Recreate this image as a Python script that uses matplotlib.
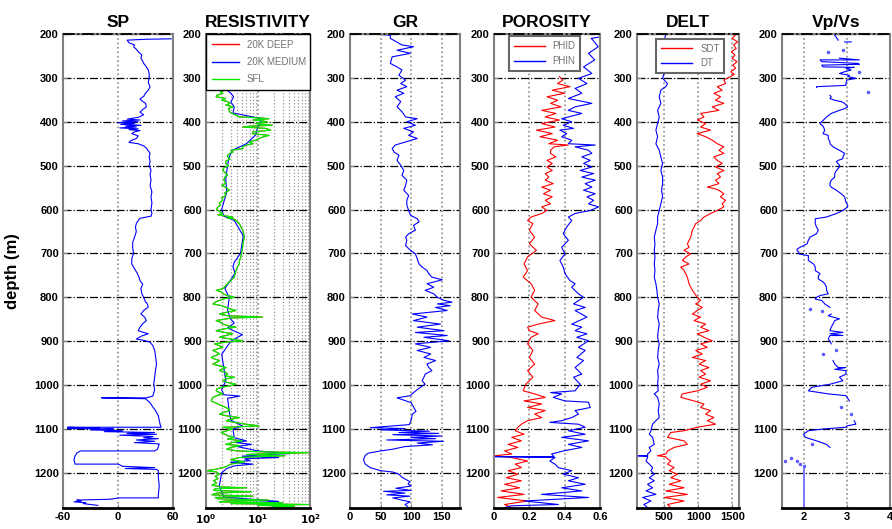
import matplotlib
matplotlib.use('Agg')
import numpy as np
from matplotlib import pyplot as plt
from matplotlib.lines import Line2D

GAP = float('nan')

# --- log readings: (depth m, value) ---
sp_log = [
    (211, 58), (212, 30), (214, 10), (220, 12), (225, 18), (229, 17), (235, 20), (240, 22),
    (248, 26), (255, 25), (262, 27), (267, 28), (275, 31), (282, 33), (290, 34), (300, 34),
    (310, 33), (320, 35), (328, 33), (335, 30), (342, 28), (348, 24), (352, 26), (358, 30),
    (366, 31), (372, 27), (378, 24), (384, 28), (390, 22), (394, 10), (396, 24), (398, 5),
    (400, 22), (402, 0), (404, 18), (406, 3), (408, 25), (410, 8), (412, 20), (414, 2),
    (416, 22), (418, 12), (420, 24), (423, 18), (427, 15), (432, 22), (438, 20), (443, 14),
    (447, 12), (450, 22), (455, 28), (460, 31), (466, 33), (472, 35), (480, 34), (490, 35),
    (500, 34), (510, 36), (520, 35), (533, 36), (545, 35), (560, 37), (571, 36), (585, 37),
    (600, 36), (609, 37), (615, 36), (620, 24), (625, 22), (632, 20), (640, 19), (650, 20),
    (663, 18), (675, 16), (686, 16), (700, 17), (712, 15), (724, 15), (735, 18), (745, 21),
    (755, 23), (762, 24), (770, 27), (780, 25), (792, 26), (800, 28), (810, 30), (815, 32),
    (822, 33), (830, 28), (838, 25), (845, 29), (853, 31), (860, 27), (868, 24), (876, 22),
    (880, 28), (883, 33), (888, 26), (895, 20), (898, 28), (902, 35), (910, 38), (921, 40),
    (935, 41), (952, 42), (965, 41), (982, 40), (998, 39), (1010, 40), (1025, 38), (1029, 31),
    (1029, -18), (1031, 30), (1040, 35), (1050, 38), (1058, 41), (1070, 44), (1080, 45),
    (1090, 46), (1096, 47), (1096, -55), (1098, -20), (1099, -55), (1100, -5), (1102, -30),
    (1104, 5), (1106, -15), (1108, 40), (1110, 10), (1112, 42), (1114, 2), (1117, 38),
    (1120, 28), (1122, 44), (1125, 20), (1128, 40), (1131, 18), (1134, 45), (1140, 44),
    (1146, 43), (1150, 40), (1150, -41), (1155, -45), (1162, -47), (1170, -48), (1178, -47),
    (1180, -47), (1180, 0), (1185, 5), (1188, 40), (1190, 8), (1192, 42), (1195, 44),
    (1210, 44), (1230, 45), (1250, 44), (1257, 44), (1257, 0), (1260, -8), (1262, -45),
    (1264, -40), (1266, -48), (1268, -35), (1270, -38), (1274, -22),
]

res_sfl = [
    (322, 1.8), (324, 1.7), (328, 2.3), (332, 1.9), (335, 2.1), (340, 1.6), (343, 1.57),
    (347, 2.4), (351, 2.0), (354, 2.6), (358, 2.9), (362, 2.4), (366, 3.3), (370, 2.7),
    (374, 2.8), (377, 2.8), (381, 3.2), (385, 3.8), (389, 4.4), (391, 10), (393, 16.3),
    (396, 8), (398, 12.2), (400, 15), (404, 9), (408, 18.9), (410, 7), (412, 5.1), (415, 14),
    (419, 17.6), (423, 8), (427, 7.8), (431, 16.3), (434, 13), (438, 10.5), (442, 9),
    (446, 6.8), (450, 8), (453, 6), (457, 5.0), (461, 5.1), (465, 3.0), (469, 3.3),
    (472, 2.9), (476, 2.6), (480, 2.6), (485, 2.9), (490, 2.4), (495, 2.4), (500, 2.7),
    (505, 2.2), (511, 2.1), (517, 2.4), (522, 2.6), (526, 2.3), (533, 2.2), (540, 2.4),
    (545, 2.0), (549, 2.4), (556, 2.8), (562, 2.3), (568, 2.4), (573, 2.0), (579, 2.1),
    (585, 1.8), (590, 1.9), (594, 1.69), (600, 1.6), (604, 1.8), (609, 2.1), (612, 1.7),
    (617, 3.3), (619, 2.6), (622, 3.5), (625, 3.8), (632, 4.4), (640, 4.7), (647, 5.1),
    (655, 5.3), (663, 5.45), (670, 5.3), (678, 5.1), (686, 5.07), (693, 4.9), (701, 4.8),
    (708, 4.7), (716, 4.4), (724, 4.38), (731, 4.0), (739, 3.78), (746, 3.6), (754, 3.52),
    (758, 3.2), (762, 3.04), (766, 2.7), (769, 2.62), (773, 2.4), (777, 2.27), (781, 2.0),
    (784, 1.57), (788, 2.0), (792, 2.11), (796, 2.6), (800, 3.52), (803, 2.3), (807, 1.82),
    (811, 1.5), (815, 1.36), (819, 2.0), (823, 2.44), (827, 3.0), (830, 3.78), (834, 2.5),
    (838, 1.82), (842, 2.6), (845, 12.2), (847, 3.0), (849, 2.5), (853, 1.57), (857, 1.9),
    (861, 2.11), (865, 2.7), (868, 3.78), (872, 2.2), (876, 1.57), (880, 2.3), (883, 3.27),
    (887, 2.4), (891, 1.82), (895, 3.0), (899, 5.07), (902, 2.5), (906, 1.46), (910, 1.8),
    (914, 2.11), (918, 1.6), (921, 1.36), (925, 1.6), (929, 1.82), (933, 1.5), (937, 1.26),
    (941, 1.5), (944, 1.82), (948, 1.6), (952, 1.36), (956, 1.8), (960, 2.44), (964, 2.0),
    (967, 1.82), (971, 2.4), (975, 2.6), (979, 2.3), (982, 3.52), (986, 2.4), (990, 2.11),
    (994, 2.6), (998, 3.78), (1002, 2.8), (1005, 1.96), (1009, 1.6), (1013, 1.57),
    (1017, 1.8), (1020, 2.11), (1024, 1.6), (1028, 1.36), (1032, 1.3), (1036, 1.26),
    (1040, 1.5), (1043, 1.69), (1047, 2.0), (1051, 2.4), (1055, 2.8), (1058, 2.83),
    (1062, 2.2), (1066, 1.82), (1070, 2.5), (1074, 4.38), (1078, 3.0), (1081, 2.44),
    (1085, 3.5), (1089, 5.86), (1093, 10.5), (1095, 4), (1096, 2.11), (1100, 3.27),
    (1104, 2.5), (1108, 1.96), (1112, 2.3), (1116, 2.7), (1119, 3.5), (1123, 2.6),
    (1127, 5.0), (1131, 3.2), (1135, 2.4), (1138, 4.5), (1142, 3.0), (1146, 2.5), (1150, 4.0),
    (1152, 12), (1154, 94), (1156, 20), (1158, 6), (1161, 33), (1163, 10), (1165, 4.4),
    (1170, 3.0), (1175, 5.5), (1180, 3.0), (1185, 2.5), (1188, 2.11), (1192, 1.5),
    (1195, 1.01), (1198, 1.6), (1203, 1.8), (1208, 1.5), (1213, 1.7), (1218, 1.4),
    (1223, 1.6), (1228, 1.3), (1232, 2.0), (1234, 6.0), (1236, 1.5), (1240, 1.4), (1243, 7.5),
    (1246, 1.6), (1250, 1.3), (1253, 8), (1256, 1.5), (1259, 1.7), (1262, 16), (1264, 2.5),
    (1266, 1.8), (1268, 30), (1270, 3), (1272, 94), (1274, 10), (1276, 50), (1278, 20),
    (1280, 70),
]

res_medium = [
    (322, 2.2), (335, 3.0), (343, 3.4), (355, 3.0), (366, 3.5), (380, 3.3), (393, 12),
    (410, 10), (430, 9), (450, 6), (465, 3.2), (480, 2.8), (500, 2.6), (530, 2.4), (560, 2.5),
    (600, 2.0), (615, 2.2), (625, 3.5), (660, 5.2), (700, 4.6), (720, 3.5), (730, 3.3),
    (745, 3.6), (760, 3.0), (780, 2.3), (800, 2.8), (830, 2.6), (850, 3.0), (858, 3.5),
    (870, 2.6), (885, 5.0), (900, 3.0), (930, 2.0), (960, 2.2), (990, 2.4), (1010, 2.0),
    (1022, 2.2), (1025, 4.5), (1030, 2.6), (1060, 2.8), (1080, 3.0), (1093, 5.0), (1100, 3.3),
    (1120, 3.5), (1127, 6.0), (1131, 3.8), (1135, 7.5), (1140, 4.0), (1150, 10), (1154, 25),
    (1156, 40), (1158, 15), (1162, 5.0), (1165, 25), (1168, 5.5), (1172, 7), (1176, 3),
    (1180, 8), (1184, 3.5), (1190, 2.5), (1200, 2.0), (1230, 1.8), (1255, 2.2), (1262, 12),
    (1265, 25), (1268, 6), (1272, 30), (1275, 18), (1278, 29), (1280, 20),
]

# the deep curve lies right under SFL in the source plot
res_deep = res_sfl

gr_log = [
    (201, 50), (203, 66), (210, 66), (225, 85), (229, 104), (237, 77), (244, 99), (252, 69),
    (267, 66), (275, 77), (282, 85), (294, 80), (305, 91), (313, 83), (320, 93), (328, 77),
    (335, 88), (343, 74), (354, 83), (366, 77), (377, 85), (389, 91), (393, 110), (400, 93),
    (408, 107), (415, 88), (423, 104), (431, 96), (438, 110), (446, 91), (453, 74), (461, 69),
    (469, 72), (476, 80), (488, 77), (499, 83), (511, 88), (522, 85), (533, 93), (545, 91),
    (556, 88), (568, 96), (579, 93), (590, 93), (602, 96), (613, 99), (621, 110), (628, 113),
    (636, 104), (647, 107), (655, 96), (663, 91), (670, 93), (682, 91), (693, 99), (701, 107),
    (712, 110), (724, 113), (731, 118), (739, 126), (746, 129), (754, 134), (760, 151),
    (769, 126), (777, 137), (784, 123), (792, 137), (800, 143), (807, 154), (811, 167),
    (815, 143), (819, 164), (823, 140), (830, 159), (838, 102), (845, 126), (853, 104),
    (861, 148), (868, 110), (876, 154), (880, 107), (887, 159), (891, 121), (899, 162),
    (906, 107), (914, 132), (921, 110), (929, 132), (937, 121), (944, 140), (952, 126),
    (960, 129), (967, 134), (975, 123), (982, 121), (990, 118), (998, 123), (1005, 115),
    (1017, 104), (1024, 99), (1029, 77), (1040, 100), (1050, 104), (1060, 108), (1066, 102),
    (1080, 100), (1090, 97), (1097, 33), (1099, 90), (1102, 50), (1105, 130), (1108, 80),
    (1110, 145), (1113, 70), (1116, 150), (1119, 100), (1122, 140), (1125, 60), (1128, 153),
    (1132, 110), (1136, 135), (1140, 90), (1146, 70), (1150, 50), (1155, 30), (1160, 25),
    (1170, 22), (1180, 25), (1188, 33), (1195, 50), (1198, 70), (1203, 80), (1210, 85),
    (1220, 98), (1225, 95), (1230, 100), (1235, 75), (1240, 100), (1242, 55), (1246, 90),
    (1250, 60), (1253, 98), (1257, 70), (1262, 85), (1266, 98), (1272, 90), (1278, 95),
]

phid_log = [
    (297, 0.37), (305, 0.39), (313, 0.36), (320, 0.43), (328, 0.33), (335, 0.40), (343, 0.30),
    (351, 0.36), (358, 0.32), (366, 0.38), (374, 0.27), (381, 0.35), (389, 0.29), (396, 0.37),
    (404, 0.27), (412, 0.345), (419, 0.24), (427, 0.33), (434, 0.26), (442, 0.36), (450, 0.31),
    (453, 0.42), (457, 0.34), (465, 0.32), (472, 0.32), (480, 0.35), (488, 0.30), (495, 0.33),
    (503, 0.30), (511, 0.33), (518, 0.29), (526, 0.31), (533, 0.29), (541, 0.335), (549, 0.27),
    (556, 0.32), (564, 0.28), (571, 0.33), (579, 0.29), (587, 0.32), (594, 0.27), (602, 0.30),
    (609, 0.27), (617, 0.21), (625, 0.19), (632, 0.22), (647, 0.20), (663, 0.23), (678, 0.20),
    (693, 0.24), (708, 0.19), (724, 0.17), (739, 0.19), (754, 0.165), (769, 0.21), (784, 0.23),
    (800, 0.21), (815, 0.25), (830, 0.23), (845, 0.27), (853, 0.345), (861, 0.25), (868, 0.19),
    (876, 0.20), (883, 0.25), (891, 0.21), (906, 0.19), (921, 0.22), (937, 0.20), (952, 0.23),
    (967, 0.19), (982, 0.22), (998, 0.18), (1013, 0.165), (1020, 0.23), (1028, 0.29),
    (1036, 0.17), (1043, 0.27), (1051, 0.19), (1058, 0.29), (1066, 0.23), (1074, 0.27),
    (1081, 0.19), (1089, 0.155), (1096, 0.135), (1104, 0.12), (1112, 0.17), (1119, 0.10),
    (1127, 0.155), (1135, 0.08), (1142, 0.135), (1150, 0.06), (1157, 0.10), (1161, 0.0),
    (1165, 0.10), (1173, 0.19), (1180, 0.12), (1188, 0.155), (1195, 0.08), (1203, 0.135),
    (1211, 0.07), (1218, 0.155), (1226, 0.06), (1234, 0.145), (1241, 0.04), (1249, 0.17),
    (1256, 0.02), (1264, 0.19), (1272, 0.06), (1279, 0.10),
]

phin_log = [
    (206, 0.61), (210, 0.55), (214, 0.56), (229, 0.59), (244, 0.535), (259, 0.57), (275, 0.507),
    (290, 0.554), (301, 0.478), (313, 0.526), (324, 0.459), (335, 0.497), (347, 0.421),
    (358, 0.554), (366, 0.459), (374, 0.42), (381, 0.497), (393, 0.383), (400, 0.44),
    (408, 0.392), (415, 0.45), (419, 0.373), (427, 0.411), (434, 0.383), (442, 0.44),
    (450, 0.421), (453, 0.573), (457, 0.459), (465, 0.535), (472, 0.554), (480, 0.497),
    (488, 0.545), (495, 0.507), (503, 0.554), (511, 0.488), (518, 0.564), (526, 0.497),
    (533, 0.573), (541, 0.516), (549, 0.554), (556, 0.507), (564, 0.573), (571, 0.526),
    (579, 0.564), (587, 0.535), (594, 0.592), (602, 0.545), (609, 0.459), (617, 0.421),
    (625, 0.44), (640, 0.411), (655, 0.392), (670, 0.421), (686, 0.383), (701, 0.402),
    (716, 0.373), (731, 0.392), (746, 0.402), (762, 0.43), (769, 0.459), (777, 0.44),
    (792, 0.478), (800, 0.507), (815, 0.45), (823, 0.516), (830, 0.459), (845, 0.526),
    (861, 0.44), (868, 0.497), (876, 0.459), (883, 0.526), (891, 0.469), (899, 0.535),
    (914, 0.478), (921, 0.516), (937, 0.469), (944, 0.507), (960, 0.459), (975, 0.497),
    (982, 0.45), (998, 0.488), (1013, 0.459), (1017, 0.32), (1020, 0.383), (1028, 0.335),
    (1036, 0.402), (1039, 0.535), (1051, 0.545), (1058, 0.459), (1066, 0.478), (1074, 0.44),
    (1081, 0.383), (1085, 0.316), (1089, 0.478), (1096, 0.516), (1104, 0.421), (1112, 0.516),
    (1119, 0.383), (1127, 0.535), (1135, 0.421), (1142, 0.497), (1150, 0.392), (1157, 0.326),
    (1163, 0.34), (1163, 0.0), (1165, 0.345), (1173, 0.316), (1180, 0.345), (1188, 0.364),
    (1195, 0.44), (1203, 0.392), (1211, 0.478), (1218, 0.421), (1226, 0.516), (1234, 0.383),
    (1241, 0.497), (1249, 0.269), (1256, 0.535), (1264, 0.173), (1272, 0.364), (1275, 0.10),
    (1279, 0.06),
]

dt_log = [
    (202, 524), (214, 500), (229, 476), (244, 524), (259, 476), (275, 451), (290, 500),
    (301, 476), (305, 500), (313, 549), (320, 524), (328, 451), (343, 427), (358, 451),
    (374, 403), (389, 427), (404, 403), (419, 378), (434, 403), (450, 378), (465, 427),
    (480, 451), (495, 476), (511, 451), (526, 476), (541, 476), (556, 461), (571, 476),
    (587, 451), (602, 427), (617, 403), (632, 403), (647, 378), (663, 354), (678, 364),
    (693, 354), (708, 364), (724, 354), (739, 364), (754, 354), (769, 378), (784, 393),
    (800, 403), (815, 427), (830, 412), (845, 403), (861, 427), (876, 412), (891, 403),
    (906, 427), (921, 412), (937, 403), (952, 427), (967, 403), (982, 412), (998, 403),
    (1013, 412), (1020, 354), (1028, 403), (1043, 427), (1058, 412), (1074, 427), (1081, 378),
    (1089, 329), (1104, 305), (1112, 281), (1119, 329), (1135, 354), (1142, 281), (1150, 305),
    (1157, 256), (1161, 256), (1161, 100), (1162, 256), (1165, 256), (1173, 232), (1180, 281),
    (1188, 329), (1195, 305), (1203, 354), (1211, 281), (1218, 354), (1226, 256), (1234, 329),
    (1241, 232), (1249, 378), (1256, 183), (1264, 305), (1272, 200), (1279, 256),
]

sdt_log = [
    (202, 1550), (210, 1500), (218, 1580), (225, 1520), (233, 1560), (240, 1490), (248, 1540),
    (256, 1500), (263, 1570), (271, 1510), (278, 1550), (286, 1480), (292, 1530), (297, 1475),
    (305, 1377), (313, 1402), (320, 1280), (328, 1353), (335, 1231), (343, 1328), (351, 1255),
    (358, 1377), (366, 1207), (374, 1304), (381, 1036), (389, 1085), (396, 987), (404, 1109),
    (412, 1036), (419, 1182), (427, 987), (434, 1109), (442, 1207), (450, 1280), (457, 1377),
    (465, 1304), (472, 1377), (480, 1231), (488, 1280), (495, 1353), (503, 1255), (511, 1377),
    (518, 1280), (526, 1328), (533, 1255), (541, 1304), (549, 1134), (552, 1231), (556, 1304),
    (564, 1377), (571, 1328), (579, 1402), (587, 1353), (594, 1377), (602, 1280), (609, 1182),
    (617, 1085), (625, 1036), (632, 963), (640, 939), (647, 914), (663, 890), (678, 841),
    (686, 865), (693, 792), (701, 890), (708, 817), (716, 768), (724, 865), (731, 744),
    (739, 792), (754, 841), (769, 865), (784, 914), (800, 987), (807, 1036), (815, 963),
    (823, 1060), (830, 987), (838, 914), (845, 1036), (853, 939), (861, 1109), (868, 1036),
    (876, 1158), (883, 987), (891, 1085), (899, 1207), (906, 1036), (914, 1134), (921, 963),
    (929, 1060), (937, 914), (944, 1109), (952, 1012), (960, 1158), (967, 1036), (975, 1109),
    (982, 1012), (990, 1182), (998, 1036), (1005, 1134), (1013, 987), (1020, 768), (1028, 744),
    (1036, 939), (1043, 1085), (1051, 1036), (1058, 1182), (1066, 1109), (1074, 1231),
    (1081, 1134), (1089, 1255), (1096, 987), (1104, 792), (1108, 597), (1119, 549),
    (1127, 792), (1135, 841), (1142, 646), (1150, 549), (1157, 524), (1161, 400), (1163, 524),
    (1165, 524), (1173, 597), (1180, 549), (1188, 646), (1195, 573), (1203, 695), (1211, 597),
    (1218, 744), (1226, 573), (1234, 792), (1241, 524), (1249, 841), (1256, 500), (1264, 792),
    (1272, 549), (1279, 597),
]

vpvs_log = [
    (203, 2.72), (208, 2.76), (214, 2.80), (216, GAP), (218, 2.95), (218, 3.10), (219, GAP),
    (255, 2.83), (259, 3.29), (259, 2.38), (263, 2.42), (267, 3.25), (269, 3.29), (271, 2.42),
    (275, 2.45), (276, 3.17), (278, 2.98), (282, 3.10), (286, 2.95), (290, 2.83), (294, 3.06),
    (297, 3.02), (301, 3.21), (305, 3.00), (313, 2.98), (317, 2.98), (320, 2.30), (322, 2.30),
    (330, GAP), (340, 2.61), (343, 2.64), (347, 2.61), (351, 2.72), (354, 2.87), (358, 2.95),
    (366, 3.02), (370, 2.95), (374, 2.83), (381, 2.64), (389, 2.53), (393, 2.49), (397, 2.45),
    (404, 2.38), (410, 2.45), (419, 2.49), (427, 2.45), (431, 2.57), (438, 2.57), (446, 2.61),
    (450, 2.61), (457, 2.68), (465, 2.83), (472, 2.95), (480, 2.91), (484, 2.91), (488, 2.80),
    (491, 2.76), (499, 2.83), (503, 2.83), (511, 2.76), (518, 2.72), (526, 2.72), (533, 2.64),
    (541, 2.61), (545, 2.61), (549, 2.64), (556, 2.76), (564, 2.87), (571, 2.95), (583, 2.98),
    (590, 3.02), (594, 3.02), (602, 2.91), (609, 2.76), (617, 2.53), (621, 2.27), (625, 2.27),
    (632, 2.27), (640, 2.30), (647, 2.34), (655, 2.30), (663, 2.15), (670, 2.11), (678, 2.08),
    (686, 1.92), (690, 1.85), (693, 1.85), (697, 1.89), (701, 1.89), (705, 2.11), (708, 2.11),
    (716, 2.11), (724, 2.23), (731, 2.27), (739, 2.27), (746, 2.38), (752, 2.34), (758, 2.34),
    (765, 2.45), (769, 2.49), (777, 2.53), (784, 2.53), (792, 2.57), (796, 2.38), (800, 2.30),
    (804, 2.27), (807, 2.42), (815, 2.49), (823, 2.61), (830, GAP), (838, 2.64), (842, 2.57),
    (849, 2.83), (853, 2.72), (861, 2.68), (868, 2.64), (876, 2.61), (880, 2.91), (883, 2.61),
    (887, 2.91), (887, 2.61), (895, 2.57), (900, 2.61), (906, 2.64), (920, GAP), (944, 2.68),
    (952, 2.72), (960, 2.80), (960, 2.98), (964, 2.72), (967, 2.98), (975, 2.98), (982, 2.83),
    (990, 2.91), (998, 2.61), (1005, 2.19), (1009, 2.15), (1013, 2.11), (1020, 2.57),
    (1024, 2.98), (1030, 3.02), (1036, 3.06), (1050, GAP), (1081, 3.17), (1089, 3.21),
    (1093, 3.00), (1096, 2.98), (1100, 2.45), (1104, 2.11), (1112, 2.00), (1119, 2.04),
    (1127, 2.30), (1135, 2.53), (1142, 2.61),
]

vpvs_dots = [
    (240, 2.57), (237, 2.91), (286, 3.29), (332, 3.48), (827, 2.15), (830, 2.42), (929, 2.45),
    (921, 2.76), (1050, 2.87), (1066, 3.10), (1135, 2.19), (1165, 1.70), (1173, 1.58),
    (1173, 1.85), (1180, 1.92), (1184, 2.0),
]

vpvs_base = [(1188, 2.0), (1280, 2.0)]

depth_ticks = list(range(200, 1201, 100))
depth_range = (1280, 200)

BLUE = '#0000ff'
RED = '#ff0000'
GREEN = '#00ee00'

plt.rcParams['font.family'] = ['Liberation Sans', 'DejaVu Sans']


def unpack(log):
    arr = np.array(log, dtype=float)
    return arr[:, 1], arr[:, 0]


def style_panel(ax, title, xlim, xticks, xlabels, log=False):
    if log:
        ax.set_xscale('log')
    ax.set_xlim(xlim)
    ax.set_ylim(depth_range)
    ax.set_yticks(depth_ticks)
    ax.set_yticklabels([str(t) for t in depth_ticks], fontweight='bold', fontsize=8)
    ax.set_xticks(xticks)
    ax.set_xticklabels(xlabels, fontweight='bold', fontsize=8)
    if not log:
        ax.minorticks_off()
    ax.grid(axis='y', color='k', ls='-.', lw=0.9)
    ax.grid(axis='x', which='major', color='0.55', ls=':', lw=1.2)
    if log:
        ax.grid(axis='x', which='minor', color='0.6', ls=':', lw=0.9)
    ax.tick_params(direction='in', length=3, width=0.8, color='0.5', pad=3)
    ax.tick_params(which='minor', length=0)
    for side in ['left', 'right', 'top']:
        ax.spines[side].set_color('0.5')
        ax.spines[side].set_linewidth(1.5)
    ax.spines['bottom'].set_color('k')
    ax.spines['bottom'].set_linewidth(2)
    # dark dash-dot line along the top edge, as in the source
    ax.axhline(depth_ticks[0], color='k', ls='-.', lw=1.3, zorder=3, clip_on=False)
    ax.set_title(title, fontsize=12.5, fontweight='bold', pad=5)
    ax.set_axisbelow(True)


def legend_box(ax, handles, labels, **kw):
    leg = ax.legend(handles, labels, fontsize=7, fancybox=False, labelcolor='0.45',
                    borderaxespad=0, **kw)
    leg.get_frame().set_alpha(1)
    return leg


def main():
    fig = plt.figure(figsize=(8.92, 5.29), dpi=100)
    W, H = 892.0, 529.0
    top, bottom = 34, 508
    panels = [(63, 110), (206, 104), (350, 110), (494, 106), (637, 102), (782, 108)]
    axes = []
    for left, width in panels:
        axes.append(fig.add_axes([left / W, 1 - bottom / H, width / W, (bottom - top) / H]))

    # SP
    ax = axes[0]
    x, y = unpack(sp_log)
    ax.plot(x, y, color=BLUE, lw=0.8)
    style_panel(ax, 'SP', (-60, 60), [-60, 0, 60], ['-60', '0', '60'])
    ax.set_ylabel('depth (m)', fontsize=12, fontweight='bold')
    ax.yaxis.set_label_coords(-0.39, 0.5)

    # RESISTIVITY
    ax = axes[1]
    x, y = unpack(res_deep)
    ax.plot(x, y, color=RED, lw=0.7)
    x, y = unpack(res_medium)
    ax.plot(x, y, color=BLUE, lw=0.8)
    x, y = unpack(res_sfl)
    ax.plot(x, y, color=GREEN, lw=0.9)
    style_panel(ax, 'RESISTIVITY', (1, 100), [1, 10, 100],
                [r'$\mathbf{10^{0}}$', r'$\mathbf{10^{1}}$', r'$\mathbf{10^{2}}$'], log=True)
    for lab in ax.get_xticklabels():
        lab.set_fontsize(7.5)
    handles = [Line2D([], [], color=RED, lw=1), Line2D([], [], color=BLUE, lw=1),
               Line2D([], [], color=GREEN, lw=1)]
    leg = legend_box(ax, handles, ['20K DEEP', '20K MEDIUM', 'SFL'], loc='upper left',
                     bbox_to_anchor=(0, 1, 1, 0), mode='expand', handlelength=2.8,
                     labelspacing=0.75, borderpad=0.6, edgecolor='k')
    leg.get_frame().set_linewidth(1.0)

    # GR
    ax = axes[2]
    x, y = unpack(gr_log)
    ax.plot(x, y, color=BLUE, lw=0.8)
    style_panel(ax, 'GR', (0, 180), [0, 50, 100, 150], ['0', '50', '100', '150'])

    # POROSITY
    ax = axes[3]
    x, y = unpack(phid_log)
    ax.plot(x, y, color=RED, lw=0.8)
    x, y = unpack(phin_log)
    ax.plot(x, y, color=BLUE, lw=0.8)
    style_panel(ax, 'POROSITY', (0, 0.6), [0, 0.2, 0.4, 0.6], ['0', '0.2', '0.4', '0.6'])
    handles = [Line2D([], [], color=RED, lw=1), Line2D([], [], color=BLUE, lw=1)]
    leg = legend_box(ax, handles, ['PHID', 'PHIN'], loc='upper left',
                     bbox_to_anchor=(0.14, 0.995), handlelength=3.2, labelspacing=0.5,
                     borderpad=0.5, edgecolor='0.4')
    leg.get_frame().set_linewidth(1.5)

    # DELT
    ax = axes[4]
    x, y = unpack(sdt_log)
    ax.plot(x, y, color=RED, lw=0.8)
    x, y = unpack(dt_log)
    ax.plot(x, y, color=BLUE, lw=0.8)
    style_panel(ax, 'DELT', (100, 1600), [500, 1000, 1500], ['500', '1000', '1500'])
    handles = [Line2D([], [], color=RED, lw=1), Line2D([], [], color=BLUE, lw=1)]
    leg = legend_box(ax, handles, ['SDT', 'DT'], loc='upper left',
                     bbox_to_anchor=(0.19, 0.99), handlelength=3.2, labelspacing=0.5,
                     borderpad=0.5, edgecolor='0.4')
    leg.get_frame().set_linewidth(1.5)

    # Vp/Vs
    ax = axes[5]
    x, y = unpack(vpvs_log)
    ax.plot(x, y, color=BLUE, lw=0.8)
    x, y = unpack(vpvs_dots)
    ax.plot(x, y, ls='none', marker='.', ms=3, color='#5a5aff')
    x, y = unpack(vpvs_base)
    ax.plot(x, y, color='#7070ff', lw=1.3)
    style_panel(ax, 'Vp/Vs', (1.5, 4), [2, 3, 4], ['2', '3', '4'])

    fig.savefig('out.png', dpi=100)


if __name__ == '__main__':
    main()
